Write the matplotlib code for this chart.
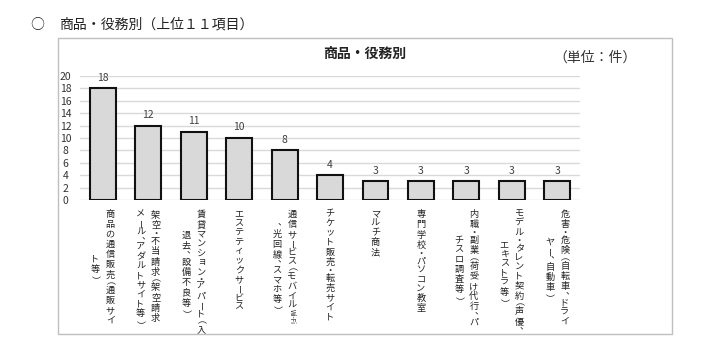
import matplotlib
matplotlib.use('Agg')
import matplotlib.pyplot as plt
from matplotlib.patches import Rectangle
from matplotlib.textpath import TextPath
from matplotlib.font_manager import FontProperties

FAMILY = ['Noto Sans CJK JP', 'DejaVu Sans']
plt.rcParams['font.family'] = FAMILY

# ---- data ----
categories = [
    "商品の通信販売（通販サイト等）",
    "架空・不当請求（架空請求メール、アダルトサイト等）",
    "賃貸マンション・アパート（入退去、設備不良等）",
    "エステティックサービス",
    "通信サービス（モバイルWi-Fi、光回線、スマホ等）",
    "チケット販売・転売サイト",
    "マルチ商法",
    "専門学校・パソコン教室",
    "内職・副業（荷受け代行、パチスロ調査等）",
    "モデル・タレント契約（声優、エキストラ等）",
    "危害・危険（自転車、ドライヤー、自動車）",
]
# category labels split into the vertical columns shown in the chart
label_columns = [
    ["商品の通信販売（通販サイ", "ト等）"],
    ["架空・不当請求（架空請求", "メール、アダルトサイト等）"],
    ["賃貸マンション・アパート（入", "退去、設備不良等）"],
    ["エステティックサービス"],
    ["通信サービス（モバイルWi-Fi", "、光回線、スマホ等）"],
    ["チケット販売・転売サイト"],
    ["マルチ商法"],
    ["専門学校・パソコン教室"],
    ["内職・副業（荷受け代行、パ", "チスロ調査等）"],
    ["モデル・タレント契約（声優、", "エキストラ等）"],
    ["危害・危険（自転車、ドライ", "ヤー、自動車）"],
]
values = [18, 12, 11, 10, 8, 4, 3, 3, 3, 3, 3]
y_ticks = list(range(0, 21, 2))

header = "商品・役務別（上位１１項目）"
title = "商品・役務別"
unit = "（単位：件）"

W, H = 711, 357
fig = plt.figure(figsize=(W / 100, H / 100), dpi=100)

# outer chart frame
fig.patches.append(Rectangle((58 / W, 1 - 334 / H), (672 - 58) / W, (334 - 38) / H,
                             transform=fig.transFigure, fill=False,
                             edgecolor='#bfbfbf', linewidth=1))

fig.text(37 / W, 1 - 25 / H, "○", ha='center', va='center', fontsize=10, color='#222222')
fig.text(59 / W, 1 - 25 / H, header, ha='left', va='center', fontsize=10, color='#222222')
fig.text(365 / W, 1 - 54 / H, title, ha='center', va='center', fontsize=10,
         fontweight='bold', color='#222222')
fig.text(595 / W, 1 - 58 / H, unit, ha='center', va='center', fontsize=10, color='#333333')

ax = fig.add_axes([80 / W, 1 - 200 / H, 500 / W, 124 / H])
x = list(range(len(values)))
bars = ax.bar(x, values, width=0.57, color='#d9d9d9', edgecolor='#111111',
              linewidth=1.5, zorder=3)
ax.set_xlim(-0.5, len(values) - 0.5)
ax.set_ylim(0, 20)
ax.set_yticks(y_ticks)
ax.yaxis.grid(True, color='#d9d9d9', linewidth=1, zorder=0)
ax.set_axisbelow(True)
for s in ax.spines.values():
    s.set_visible(False)
ax.set_xticks([])
ax.tick_params(axis='y', length=0, labelsize=7.5, pad=10.4, labelcolor='#333333')
for t in ax.get_yticklabels():
    t.set_ha('center')
ax.bar_label(bars, padding=4, fontsize=7.5, color='#404040')

# vertical (tategaki) category labels, each glyph centred on its ink
PX = 0.72            # points per pixel at 100 dpi
pitch_px = 10.2
col_gap_px = 15
top_px = 8.5
fs = 6.6
rotated = set("（）ー")


def weight(ch):
    o = ord(ch)
    if ch in "（）":
        return 0.55
    if ch == "・":
        return 0.55
    if ch == "、":
        return 0.6
    if ch == "ー":
        return 0.85
    if 0x3040 <= o <= 0x30FF:
        return 0.92
    return 1.0


def tokens(s):
    out = []
    buf = ""
    for ch in s:
        if ord(ch) < 128:
            buf += ch
        else:
            if buf:
                out.append((buf, 0.28 * len(buf)))
                buf = ""
            out.append((ch, weight(ch)))
    if buf:
        out.append((buf, 0.28 * len(buf)))
    return out


def ink_box(tok, size):
    fp = FontProperties(family=FAMILY, size=size)
    return TextPath((0, 0), tok, size=size, prop=fp).get_extents()


for i, cols in enumerate(label_columns):
    toks = [tokens(c) for c in cols]
    lens = [sum(w for _, w in t) for t in toks]
    L = max(lens)
    n = len(cols)
    for j, tk in enumerate(toks):
        dx = ((n - 1) / 2 - j) * col_gap_px
        y = top_px + (L - lens[j]) / 2 * pitch_px
        for tok, w in tk:
            cy_px = y + w * pitch_px / 2
            size = fs
            rot = 0
            tx, ty = dx * PX, -cy_px * PX          # target ink centre (points)
            if ord(tok[0]) < 128:
                size = 4.6
                rot = -90
            elif tok in rotated:
                rot = -90
            elif tok == "、":
                tx += 2.2 * PX
                ty += 1.5 * PX
            ext = ink_box(tok, size)
            icx, icy = (ext.x0 + ext.x1) / 2, (ext.y0 + ext.y1) / 2
            if rot == -90:
                # Agg places the rotated bitmap without rotating the left-bearing
                # offset; compensate for it.
                xmin = max(ext.x0, 0)
                ox, oy = tx - icy - xmin, ty + icx - xmin
            else:
                ox, oy = tx - icx, ty - icy
            ax.annotate(tok, xy=(i, 0), xycoords=('data', 'axes fraction'),
                        xytext=(ox, oy), textcoords='offset points',
                        ha='left', va='baseline', rotation=rot,
                        rotation_mode='anchor', fontsize=size,
                        color='#222222', annotation_clip=False)
            y += w * pitch_px

fig.savefig("out.png", dpi=100)
